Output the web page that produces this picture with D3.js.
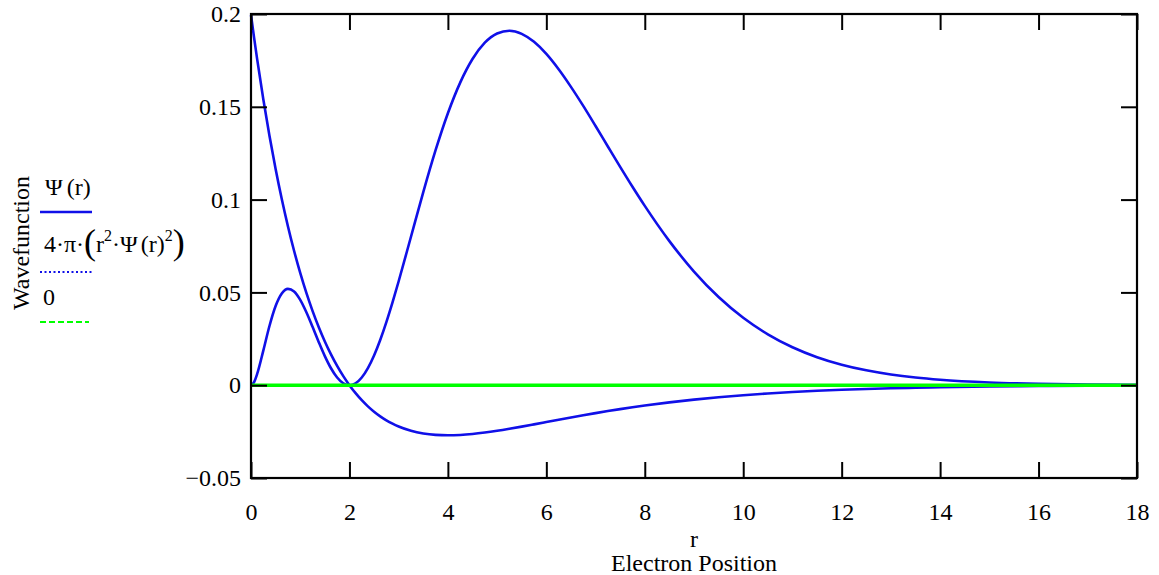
<!DOCTYPE html>
<html><head><meta charset="utf-8">
<script src="https://cdn.jsdelivr.net/npm/d3@7"></script>
<style>body{margin:0;background:#fff}svg{display:block}text{font-family:"Liberation Serif","Times New Roman",serif;fill:#000}</style>
</head><body><svg id="c" width="1159" height="575"></svg>
<script>
const rValues = [0,0.0625,0.125,0.25,0.375,0.5,0.625,0.75,0.875,1,1.125,1.25,1.375,1.5,1.625,1.75,1.875,2,2.125,2.25,2.375,2.5,2.625,2.75,2.875,3,3.25,3.5,3.75,4,4.25,4.5,4.75,5,5.25,5.5,5.75,6,6.25,6.5,6.75,7,7.25,7.5,7.75,8,8.5,9,9.5,10,10.5,11,11.5,12,12.5,13,13.5,14,15,16,17,18];
const psiValues = [0.19947,0.18729,0.17567,0.15403,0.13436,0.11651,0.10033,0.08568,0.07244,0.06049,0.04972,0.04004,0.03134,0.02356,0.01660,0.01039,0.00488,0,-0.00431,-0.00809,-0.01141,-0.01429,-0.01678,-0.01891,-0.02073,-0.02225,-0.02455,-0.02600,-0.02677,-0.02700,-0.02680,-0.02628,-0.02551,-0.02456,-0.02348,-0.02232,-0.02110,-0.01986,-0.01862,-0.01740,-0.01621,-0.01506,-0.01395,-0.01290,-0.01190,-0.01096,-0.00925,-0.00776,-0.00647,-0.00538,-0.00445,-0.00367,-0.00302,-0.00247,-0.00202,-0.00165,-0.00134,-0.00109,-0.00072,-0.00047,-0.00030,-0.00020];
const radialValues = [0,0.00172,0.00606,0.01863,0.03190,0.04265,0.04941,0.05190,0.05049,0.04598,0.03932,0.03148,0.02334,0.01569,0.00914,0.00416,0.00105,0,0.00105,0.00417,0.00922,0.01603,0.02437,0.03399,0.04463,0.05601,0.07999,0.10404,0.12660,0.14653,0.16304,0.17575,0.18454,0.18951,0.19098,0.18931,0.18499,0.17849,0.17022,0.16074,0.15047,0.13963,0.12861,0.11764,0.10692,0.09661,0.07764,0.06123,0.04750,0.03632,0.02742,0.02046,0.01511,0.01106,0.00802,0.00578,0.00413,0.00293,0.00145,0.00071,0.00034,0.00016];
const zeroValues = [0,0];
const zeroR = [0,18];
const xTicks = [0,2,4,6,8,10,12,14,16,18];
const yTicks = [-0.05,0,0.05,0.1,0.15,0.2];
const yTickLabels = ["\u22120.05","0","0.05","0.1","0.15","0.2"];

const svg = d3.select("#c");
const L=251,T=14,R=1137,B=478;
const FS = "24px";
const x = d3.scaleLinear().domain([0,18]).range([L,R]);
const y = d3.scaleLinear().domain([-0.05,0.2]).range([B,T]);
const blue = "#1010e8", green = "#00ff00";

const line = d3.line().x(d=>x(d[0])).y(d=>y(d[1])).curve(d3.curveMonotoneX);
const g = svg.append("g");
g.append("path").datum(rValues.map((r,i)=>[r,psiValues[i]])).attr("d",line)
 .attr("fill","none").attr("stroke",blue).attr("stroke-width",2.6);
g.append("path").datum(rValues.map((r,i)=>[r,radialValues[i]])).attr("d",line)
 .attr("fill","none").attr("stroke",blue).attr("stroke-width",2.6);
g.append("path").datum(zeroR.map((r,i)=>[r,zeroValues[i]])).attr("d",d3.line().x(d=>x(d[0])).y(d=>y(d[1])))
 .attr("fill","none").attr("stroke",green).attr("stroke-width",3.5);

// axes (ticks inward, all four sides)
const tl = 16;
const axB = d3.axisBottom(x).tickValues(xTicks).tickSize(-tl).tickFormat(d3.format("d")).tickPadding(25);
const axT = d3.axisTop(x).tickValues(xTicks).tickSize(-tl).tickFormat("");
const axL = d3.axisLeft(y).tickValues(yTicks).tickSize(-tl).tickFormat((d,i)=>yTickLabels[i]).tickPadding(10);
const axR = d3.axisRight(y).tickValues(yTicks).tickSize(-tl).tickFormat("");
function style(sel){
  sel.select(".domain").remove();
  sel.selectAll(".tick line").attr("stroke","#000").attr("stroke-width",2);
  sel.selectAll(".tick text").style("font-size",FS).style("font-family","Liberation Serif").attr("fill","#000");
}
svg.append("g").attr("transform",`translate(0,${B})`).call(axB).call(style);
svg.append("g").attr("transform",`translate(0,${T})`).call(axT).call(style);
svg.append("g").attr("transform",`translate(${L},0)`).call(axL).call(style);
svg.append("g").attr("transform",`translate(${R},0)`).call(axR).call(style);
svg.append("rect").attr("x",L).attr("y",T).attr("width",R-L).attr("height",B-T)
 .attr("fill","none").attr("stroke","#000").attr("stroke-width",2.2);

// axis titles
svg.append("text").attr("x",(L+R)/2).attr("y",547).attr("text-anchor","middle").style("font-size",FS).text("r");
svg.append("text").attr("x",(L+R)/2).attr("y",571).attr("text-anchor","middle").style("font-size",FS).text("Electron Position");
svg.append("text").attr("transform","translate(29,243) rotate(-90)").attr("text-anchor","middle").style("font-size",FS).text("Wavefunction");

// legend
const lg = svg.append("g");
const t1 = lg.append("text").attr("x",45).attr("y",195).style("font-size",FS);
t1.append("tspan").text("\u03A8");
t1.append("tspan").attr("dx",4).text("(r)");
lg.append("line").attr("x1",40).attr("x2",92).attr("y1",212).attr("y2",212).attr("stroke",blue).attr("stroke-width",2.4);
const t2 = lg.append("text").attr("x",44).attr("y",252).style("font-size",FS);
t2.append("tspan").text("4\u00B7\u03C0\u00B7");
t2.append("tspan").style("font-size","36px").attr("dy",2).text("(");
t2.append("tspan").attr("dy",-2).text("r");
t2.append("tspan").style("font-size","16px").attr("dy",-11).text("2");
t2.append("tspan").attr("dy",11).text("\u00B7\u03A8");
t2.append("tspan").attr("dx",3).text("(r)");
t2.append("tspan").style("font-size","16px").attr("dy",-11).text("2");
t2.append("tspan").style("font-size","36px").attr("dy",13).text(")");
lg.append("line").attr("x1",40).attr("x2",92).attr("y1",272).attr("y2",272).attr("stroke",blue).attr("stroke-width",2).attr("stroke-dasharray","2,2.5");
lg.append("text").attr("x",43).attr("y",305).style("font-size",FS).text("0");
lg.append("line").attr("x1",40).attr("x2",89).attr("y1",322).attr("y2",322).attr("stroke",green).attr("stroke-width",2).attr("stroke-dasharray","6,3");
</script></body></html>
